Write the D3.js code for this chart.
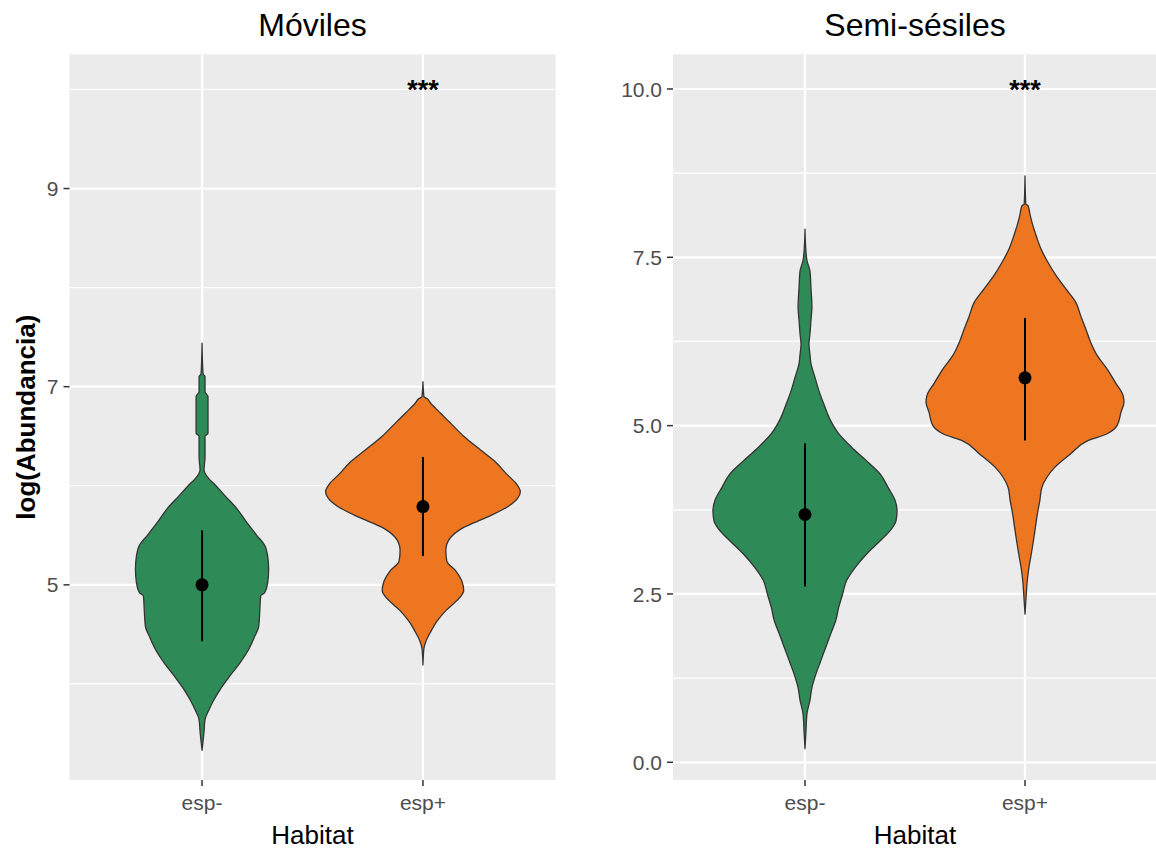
<!DOCTYPE html>
<html>
<head>
<meta charset="utf-8">
<script src="https://cdn.jsdelivr.net/npm/d3@7/dist/d3.min.js"></script>
<style>
  html, body { margin: 0; padding: 0; background: #ffffff; }
  svg { display: block; }
  text { font-family: "Liberation Sans", Arial, Helvetica, sans-serif; }
</style>
</head>
<body>
<svg id="chart" width="1156" height="852"></svg>
<script>
// ---- data -------------------------------------------------------------
const habitats = ["esp-", "esp+"];
const panelTitles = ["Móviles", "Semi-sésiles"];
const fillColors = ["#2E8B57", "#EE7621"];

// y axis breaks (major with labels, minor without)
const movilesTicks = [5, 7, 9];
const movilesMinor = [4, 6, 8, 10];
const movilesDomain = [3.03, 10.355];
const semiTicks = [0, 2.5, 5, 7.5, 10];
const semiTickLabels = ["0.0", "2.5", "5.0", "7.5", "10.0"];
const semiMinor = [1.25, 3.75, 6.25, 8.75];
const semiDomain = [-0.263, 10.515];

// violin density profiles: [log(Abundancia), relative density]
const movilesEspMinus = [
  [7.44, 0], [7.13, 0.01], [7.10, 0.03], [6.95, 0.03], [6.90, 0.06], [6.80, 0.06],
  [6.53, 0.06], [6.50, 0.03], [6.29, 0.03], [6.16, 0.02], [6.07, 0.07], [6.01, 0.13],
  [5.90, 0.23], [5.77, 0.35], [5.63, 0.45], [5.50, 0.55], [5.40, 0.63], [5.29, 0.66],
  [5.16, 0.67], [5.02, 0.66], [4.92, 0.63], [4.89, 0.59], [4.72, 0.58], [4.58, 0.57],
  [4.48, 0.53], [4.35, 0.47], [4.21, 0.38], [4.08, 0.28], [3.94, 0.18], [3.84, 0.12],
  [3.74, 0.07], [3.64, 0.03], [3.52, 0.02], [3.33, 0]
];
const movilesEspPlus = [
  [7.05, 0], [6.90, 0.01], [6.88, 0.04], [6.83, 0.08], [6.73, 0.18], [6.63, 0.28],
  [6.50, 0.41], [6.36, 0.58], [6.23, 0.74], [6.12, 0.84], [6.02, 0.94], [5.94, 0.98],
  [5.87, 0.95], [5.78, 0.84], [5.68, 0.64], [5.58, 0.41], [5.48, 0.28], [5.41, 0.24],
  [5.35, 0.23], [5.24, 0.24], [5.14, 0.33], [5.04, 0.39], [4.94, 0.41], [4.84, 0.34],
  [4.74, 0.23], [4.63, 0.14], [4.53, 0.08], [4.43, 0.03], [4.36, 0.01], [4.19, 0]
];
const semiEspMinus = [
  [7.92, 0], [7.70, 0.005], [7.45, 0.02], [7.30, 0.05], [7.05, 0.06], [6.76, 0.07],
  [6.56, 0.06], [6.36, 0.05], [6.21, 0.04], [6.06, 0.05], [5.92, 0.06], [5.72, 0.10],
  [5.52, 0.14], [5.32, 0.19], [5.07, 0.26], [4.88, 0.34], [4.68, 0.47], [4.48, 0.62],
  [4.28, 0.76], [4.08, 0.84], [3.89, 0.91], [3.74, 0.93], [3.59, 0.92], [3.44, 0.86],
  [3.29, 0.76], [3.09, 0.62], [2.90, 0.51], [2.70, 0.42], [2.50, 0.38], [2.30, 0.34],
  [2.10, 0.31], [1.91, 0.26], [1.71, 0.21], [1.51, 0.16], [1.31, 0.11], [1.11, 0.07],
  [0.92, 0.05], [0.72, 0.02], [0.47, 0.01], [0.20, 0]
];
const semiEspPlus = [
  [8.71, 0], [8.29, 0.008], [8.27, 0.03], [8.12, 0.053], [7.97, 0.08], [7.82, 0.113],
  [7.62, 0.163], [7.43, 0.23], [7.23, 0.313], [7.03, 0.413], [6.83, 0.513], [6.63, 0.563],
  [6.44, 0.613], [6.24, 0.663], [6.04, 0.73], [5.84, 0.83], [5.64, 0.913], [5.45, 0.99],
  [5.35, 1.0], [5.20, 0.97], [5.00, 0.93], [4.88, 0.83], [4.78, 0.64], [4.58, 0.46],
  [4.38, 0.30], [4.23, 0.22], [4.08, 0.17], [3.89, 0.15], [3.69, 0.125], [3.49, 0.105],
  [3.29, 0.085], [3.09, 0.063], [2.90, 0.04], [2.70, 0.023], [2.50, 0.013], [2.20, 0]
];

// mean and range per habitat
const movilesMean = [5.00, 5.79];
const movilesLow = [4.43, 5.29];
const movilesHigh = [5.55, 6.29];
const semiMean = [3.68, 5.71];
const semiLow = [2.61, 4.78];
const semiHigh = [4.74, 6.60];

// significance labels
const signifLabels = ["", "***"];
const signifY = 10;

// ---- layout -----------------------------------------------------------
const svg = d3.select("#chart");
const panelTop = 54.3, panelBottom = 780;

const panels = [
  {
    title: panelTitles[0], left: 69.5, right: 555.5,
    domain: movilesDomain, ticks: movilesTicks, tickLabels: movilesTicks.map(String),
    minor: movilesMinor, violins: [movilesEspMinus, movilesEspPlus],
    mean: movilesMean, low: movilesLow, high: movilesHigh, ylab: true
  },
  {
    title: panelTitles[1], left: 673, right: 1157,
    domain: semiDomain, ticks: semiTicks, tickLabels: semiTickLabels,
    minor: semiMinor, violins: [semiEspMinus, semiEspPlus],
    mean: semiMean, low: semiLow, high: semiHigh, ylab: false
  }
];

panels.forEach(p => {
  const g = svg.append("g");
  const x = d3.scalePoint().domain(habitats).range([p.left, p.right]).padding(0.6);
  const y = d3.scaleLinear().domain(p.domain).range([panelBottom, panelTop]);
  const halfW = d3.scaleLinear().domain([0, 1]).range([0, x.step() * 0.45]);

  const clipId = "clip" + Math.round(p.left);
  svg.append("clipPath").attr("id", clipId)
    .append("rect").attr("x", p.left).attr("y", panelTop)
    .attr("width", p.right - p.left).attr("height", panelBottom - panelTop);

  // panel background
  g.append("rect").attr("x", p.left).attr("y", panelTop)
    .attr("width", p.right - p.left).attr("height", panelBottom - panelTop)
    .attr("fill", "#EBEBEB");

  const grid = g.append("g").attr("clip-path", `url(#${clipId})`);
  grid.selectAll("line.minor").data(p.minor).join("line")
    .attr("x1", p.left).attr("x2", p.right)
    .attr("y1", d => y(d)).attr("y2", d => y(d))
    .attr("stroke", "#ffffff").attr("stroke-width", 1.2);
  grid.selectAll("line.major").data(p.ticks).join("line")
    .attr("x1", p.left).attr("x2", p.right)
    .attr("y1", d => y(d)).attr("y2", d => y(d))
    .attr("stroke", "#ffffff").attr("stroke-width", 2.2);
  grid.selectAll("line.vmajor").data(habitats).join("line")
    .attr("x1", d => x(d)).attr("x2", d => x(d))
    .attr("y1", panelTop).attr("y2", panelBottom)
    .attr("stroke", "#ffffff").attr("stroke-width", 2.2);

  // violins
  const area = d3.area()
    .curve(d3.curveMonotoneY)
    .y(d => y(d[0]));
  habitats.forEach((h, i) => {
    const cx = x(h);
    grid.append("path")
      .datum(p.violins[i])
      .attr("d", area.x0(d => cx - halfW(d[1])).x1(d => cx + halfW(d[1])))
      .attr("fill", fillColors[i])
      .attr("stroke", "#333333")
      .attr("stroke-width", 1.3)
      .attr("stroke-linejoin", "round");
  });

  // mean +/- range
  habitats.forEach((h, i) => {
    const cx = x(h);
    grid.append("line")
      .attr("x1", cx).attr("x2", cx)
      .attr("y1", y(p.low[i])).attr("y2", y(p.high[i]))
      .attr("stroke", "#000000").attr("stroke-width", 2);
    grid.append("circle")
      .attr("cx", cx).attr("cy", y(p.mean[i])).attr("r", 6.5)
      .attr("fill", "#000000");
  });

  // significance stars
  habitats.forEach((h, i) => {
    if (!signifLabels[i]) return;
    g.append("text")
      .attr("x", x(h)).attr("y", y(signifY) + 10)
      .attr("text-anchor", "middle")
      .attr("font-size", 27).attr("font-weight", "bold")
      .attr("fill", "#000000")
      .text(signifLabels[i]);
  });

  // y axis
  const yAxis = g.append("g");
  p.ticks.forEach((t, i) => {
    yAxis.append("line")
      .attr("x1", p.left - 6).attr("x2", p.left)
      .attr("y1", y(t)).attr("y2", y(t))
      .attr("stroke", "#333333").attr("stroke-width", 1.5);
    yAxis.append("text")
      .attr("x", p.left - 11).attr("y", y(t))
      .attr("dy", "0.36em")
      .attr("text-anchor", "end")
      .attr("font-size", 21).attr("fill", "#4D4D4D")
      .text(p.tickLabels[i]);
  });

  // x axis
  const xAxis = g.append("g");
  habitats.forEach(h => {
    xAxis.append("line")
      .attr("x1", x(h)).attr("x2", x(h))
      .attr("y1", panelBottom).attr("y2", panelBottom + 6)
      .attr("stroke", "#333333").attr("stroke-width", 1.5);
    xAxis.append("text")
      .attr("x", x(h)).attr("y", 810)
      .attr("text-anchor", "middle")
      .attr("font-size", 21).attr("fill", "#4D4D4D")
      .text(h);
  });

  g.append("text")
    .attr("x", (p.left + p.right) / 2).attr("y", 844)
    .attr("text-anchor", "middle")
    .attr("font-size", 26).attr("fill", "#000000")
    .text("Habitat");

  g.append("text")
    .attr("x", (p.left + p.right) / 2).attr("y", 36)
    .attr("text-anchor", "middle")
    .attr("font-size", 32).attr("fill", "#000000")
    .text(p.title);

  if (p.ylab) {
    g.append("text")
      .attr("transform", `translate(35,${(panelTop + panelBottom) / 2}) rotate(-90)`)
      .attr("text-anchor", "middle")
      .attr("font-size", 26).attr("font-weight", "bold")
      .attr("fill", "#000000")
      .text("log(Abundancia)");
  }
});
</script>
</body>
</html>
